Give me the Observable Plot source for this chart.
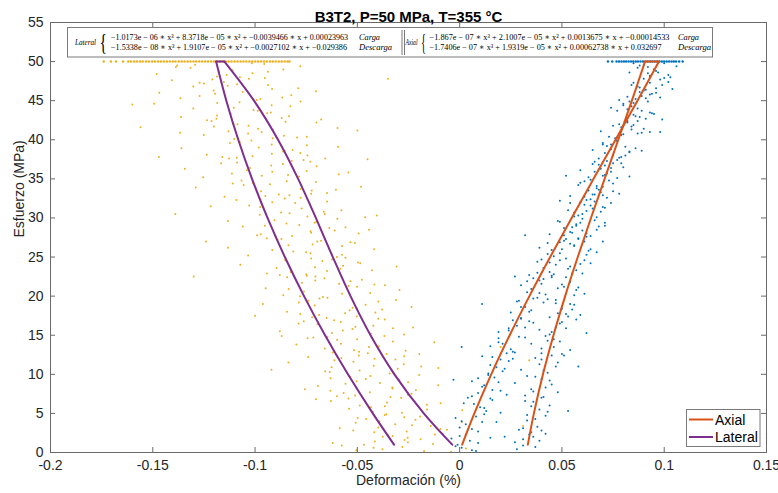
<!DOCTYPE html>
<html><head><meta charset="utf-8">
<script src="https://cdn.jsdelivr.net/npm/d3@7"></script>
<script src="https://cdn.jsdelivr.net/npm/@observablehq/plot@0.6"></script>
<style>
body{margin:0;background:#fff;}
#wrap{position:relative;width:778px;height:493px;font-family:"Liberation Sans",Arial,sans-serif;}
#overlay{position:absolute;left:0;top:0;pointer-events:none;}
</style></head><body>
<div id="wrap"><div id="chart"></div>
<svg id="overlay" width="778" height="493" xmlns="http://www.w3.org/2000/svg">
  <g font-family="'Liberation Serif','DejaVu Serif',serif" fill="#000">
    <rect x="67.5" y="27.5" width="645" height="29.5" fill="#fff" stroke="#7a7a7a" stroke-width="1"/>
    <text x="75" y="45" font-size="9" font-style="italic" textLength="21" lengthAdjust="spacingAndGlyphs">Lateral</text>
    <text x="99.5" y="50" font-size="24" textLength="7.5" lengthAdjust="spacingAndGlyphs">{</text>
    <text x="111" y="39.5" font-size="8.5" textLength="237" lengthAdjust="spacingAndGlyphs">−1.0173e − 06 ∗ x³ + 8.3718e − 05 ∗ x² + −0.0039466 ∗ x + 0.00023963</text>
    <text x="111" y="49.5" font-size="8.5" textLength="236" lengthAdjust="spacingAndGlyphs">−1.5338e − 08 ∗ x³ + 1.9107e − 05 ∗ x² + −0.0027102 ∗ x + −0.029386</text>
    <text x="359" y="39.5" font-size="8.5" font-style="italic" textLength="21" lengthAdjust="spacingAndGlyphs">Carga</text>
    <text x="359" y="49.5" font-size="8.5" font-style="italic" textLength="33" lengthAdjust="spacingAndGlyphs">Descarga</text>
    <line x1="402" x2="402" y1="30" y2="55" stroke="#555" stroke-width="0.8"/>
    <line x1="404.5" x2="404.5" y1="30" y2="55" stroke="#555" stroke-width="0.8"/>
    <text x="405.5" y="45" font-size="9" font-style="italic" textLength="12" lengthAdjust="spacingAndGlyphs">Axial</text>
    <text x="421" y="50" font-size="24" textLength="5" lengthAdjust="spacingAndGlyphs">{</text>
    <text x="429.5" y="39.5" font-size="8.5" textLength="240" lengthAdjust="spacingAndGlyphs">−1.867e − 07 ∗ x³ + 2.1007e − 05 ∗ x² + 0.0013675 ∗ x + −0.00014533</text>
    <text x="429.5" y="49.5" font-size="8.5" textLength="232" lengthAdjust="spacingAndGlyphs">−1.7406e − 07 ∗ x³ + 1.9319e − 05 ∗ x² + 0.00062738 ∗ x + 0.032697</text>
    <text x="678" y="39.5" font-size="8.5" font-style="italic" textLength="21" lengthAdjust="spacingAndGlyphs">Carga</text>
    <text x="678" y="49.5" font-size="8.5" font-style="italic" textLength="33" lengthAdjust="spacingAndGlyphs">Descarga</text>
  </g>
  <g font-family="'Liberation Sans',Arial,sans-serif" font-size="14" fill="#000">
    <rect x="686.5" y="409.5" width="73.5" height="37" fill="#fff" stroke="#7a7a7a" stroke-width="1"/>
    <line x1="689" x2="713" y1="419.5" y2="419.5" stroke="#D95319" stroke-width="2"/>
    <line x1="689" x2="713" y1="437" y2="437" stroke="#7E2F8E" stroke-width="2"/>
    <text x="715" y="424.5">Axial</text>
    <text x="715" y="442">Lateral</text>
  </g>
</svg></div>
<script>
const titleText = "B3T2, P=50 MPa, T=355 °C";
const xLabel = "Deformación (%)";
const yLabel = "Esfuerzo (MPa)";
const xTicks = [-0.2, -0.15, -0.1, -0.05, 0, 0.05, 0.1, 0.15];
const yTicks = [0, 5, 10, 15, 20, 25, 30, 35, 40, 45, 50, 55];

// fitted curves read at these stress levels (MPa)
const stressLevels = [1, 5, 10, 15, 20, 25, 30, 35, 40, 45, 50];
const lateralCarga = [-0.00362, -0.01753, -0.03187, -0.04356, -0.05334, -0.06200, -0.07028, -0.07895, -0.08878, -0.10053, -0.11496];
const lateralDescarga = [-0.03208, -0.04246, -0.05459, -0.06579, -0.07607, -0.08544, -0.09391, -0.10149, -0.10820, -0.11405, -0.11905];
const axialCarga = [0.00124, 0.00719, 0.01544, 0.02446, 0.03411, 0.04425, 0.05475, 0.06545, 0.07622, 0.08692, 0.09741];
const axialDescarga = [0.03334, 0.03630, 0.04073, 0.04587, 0.05158, 0.05774, 0.06421, 0.07086, 0.07756, 0.08419, 0.09061];

// hold phase at 50 MPa (deformation values)
const holdStress = 50;
const lateralHoldX = [-0.174,-0.1705,-0.168,-0.1645,-0.162,-0.1606,-0.1591,-0.1577,-0.1562,-0.1549,-0.1533,-0.1519,-0.1503,-0.1489,-0.1474,-0.146,-0.1446,-0.1431,-0.1417,-0.1402,-0.1389,-0.1373,-0.1359,-0.1345,-0.133,-0.1316,-0.1301,-0.1288,-0.1273,-0.1259,-0.1244,-0.123,-0.1215,-0.1201,-0.1187,-0.1172,-0.1158,-0.1143,-0.1129,-0.1115,-0.11,-0.1086,-0.1071,-0.1057,-0.1043,-0.1028,-0.1014,-0.0999,-0.0985,-0.0971,-0.0956,-0.0942,-0.0927,-0.0913,-0.0899,-0.0884,-0.087,-0.0855,-0.0841,-0.0832];
const axialHoldX = [0.0725,0.0746,0.0767,0.0779,0.0791,0.0803,0.0814,0.0826,0.0838,0.0849,0.0861,0.0872,0.0884,0.0896,0.0907,0.0919,0.0931,0.0942,0.0954,0.0965,0.0977,0.0989,0.1,0.1012,0.1024,0.1036,0.1047,0.1058,0.1073,0.109];

// scattered measurements [deformación, esfuerzo]
const lateralPts = [
[-0.0505,0.3],[-0.0415,1.4],[-0.035,2.2],[-0.028,0.7],[-0.0254,1.9],[-0.0174,0.2],[-0.013,1.1],[-0.0576,0.9],[-0.0083,2.4],[0.0031,0.5],[-0.0376,2.0],[-0.0269,1.6],
[-0.0216,4.2],[-0.052,2.8],[-0.0366,4.8],[-0.0141,3.4],[-0.0417,2.6],[-0.0271,4.5],[-0.0586,3.1],[0.001,3.9],[-0.0392,4.0],[-0.0062,2.9],[-0.0315,3.6],[-0.0499,4.4],
[-0.0541,5.6],[-0.0338,7.1],[-0.0093,6.3],[-0.0424,5.2],[-0.0702,6.8],[-0.0253,7.4],[-0.0366,5.9],[-0.016,6.1],[-0.0511,7.3],[0.0013,5.4],[-0.0629,6.6],[-0.0286,7.0],
[-0.0329,8.3],[-0.0535,9.7],[-0.0632,7.9],[-0.0252,9.0],[-0.0105,8.6],[-0.0459,9.4],[-0.0567,7.6],[-0.039,8.9],[-0.0198,9.9],[-0.0756,8.1],[-0.0296,9.2],[-0.0693,8.5],
[-0.0489,10.5],[-0.0273,11.3],[-0.074,12.2],[-0.0342,10.1],[-0.0612,11.8],[-0.0104,10.8],[-0.0493,12.4],[-0.0188,11.0],[-0.0635,10.3],[-0.0416,12.0],[-0.0837,11.5],[-0.0303,10.7],
[-0.0264,13.0],[-0.0599,14.4],[-0.0449,12.7],[-0.0798,13.8],[-0.0368,14.9],[-0.0659,13.3],[-0.0124,14.1],[-0.0492,12.9],[-0.0743,14.6],[-0.0395,13.6],[-0.0197,12.6],[-0.0646,14.8],
[-0.0879,15.5],[-0.0614,16.9],[-0.0422,16.2],[-0.0272,15.1],[-0.0721,17.3],[-0.0524,15.8],[-0.0787,16.5],[-0.0366,17.0],[-0.0625,15.3],[-0.0228,16.0],[-0.0503,17.4],[-0.0581,16.7],
[-0.0538,18.2],[-0.0779,17.7],[-0.0311,19.5],[-0.0708,18.8],[-0.0962,19.0],[-0.0412,17.9],[-0.0646,19.8],[-0.0501,18.4],[-0.0844,18.0],[-0.0397,19.3],[-0.0685,19.7],[-0.0235,18.6],
[-0.0761,20.6],[-0.0365,21.4],[-0.0661,22.3],[-0.0862,20.1],[-0.0534,21.9],[-0.0948,21.0],[-0.0437,20.4],[-0.0706,22.0],[-0.0589,21.6],[-0.0843,22.4],[-0.0294,20.8],[-0.0502,21.2],
[-0.0583,23.5],[-0.0942,22.9],[-0.0486,24.2],[-0.0726,24.8],[-0.0826,23.1],[-0.0308,23.8],[-0.0747,22.6],[-0.0671,24.5],[-0.1072,24.0],[-0.0429,23.3],[-0.0558,24.9],[-0.0895,23.6],
[-0.0813,25.7],[-0.0575,26.4],[-0.1034,25.2],[-0.0678,27.1],[-0.0418,26.0],[-0.0943,27.4],[-0.0729,25.5],[-0.0512,26.8],[-0.0871,27.3],[-0.1132,26.2],[-0.06,25.0],[-0.0719,26.6],
[-0.0494,28.0],[-0.0847,29.3],[-0.099,27.8],[-0.0637,28.7],[-0.1133,29.6],[-0.0729,28.3],[-0.0598,29.9],[-0.0897,27.6],[-0.0784,29.1],[-0.0443,28.5],[-0.106,28.9],[-0.0701,29.5],
[-0.0977,30.4],[-0.0772,31.2],[-0.0462,30.1],[-0.0916,32.0],[-0.1217,31.5],[-0.0664,30.8],[-0.1091,32.3],[-0.0578,31.0],[-0.0831,30.6],[-0.0732,31.8],[-0.0973,32.4],[-0.0405,30.3],
[-0.0726,33.1],[-0.1149,32.7],[-0.0927,34.3],[-0.0605,33.6],[-0.1066,34.8],[-0.0832,32.9],[-0.0482,34.0],[-0.0971,33.4],[-0.0703,34.6],[-0.129,33.9],[-0.0777,32.6],[-0.1109,34.4],
[-0.0916,35.9],[-0.0699,36.6],[-0.1254,35.2],[-0.0821,37.3],[-0.104,36.1],[-0.0591,35.6],[-0.1166,37.0],[-0.0864,36.9],[-0.0967,35.4],[-0.0763,37.4],[-0.1343,36.3],[-0.0544,35.8],
[-0.0779,38.3],[-0.116,37.8],[-0.0919,39.4],[-0.136,38.9],[-0.0657,37.6],[-0.1075,39.7],[-0.1236,38.1],[-0.0855,38.6],[-0.0594,39.1],[-0.1018,39.9],[-0.0744,38.0],[-0.1089,37.7],
[-0.1251,40.6],[-0.0913,41.3],[-0.1102,40.1],[-0.07,42.2],[-0.1032,41.8],[-0.1366,40.9],[-0.0795,40.3],[-0.1213,42.4],[-0.0968,41.0],[-0.0597,41.5],[-0.1086,42.0],[-0.0747,40.4],
[-0.0987,43.7],[-0.1362,42.9],[-0.0827,44.3],[-0.1186,43.1],[-0.1076,44.8],[-0.0677,42.6],[-0.1302,44.0],[-0.0923,43.5],[-0.1493,44.6],[-0.087,42.8],[-0.1119,43.3],[-0.0778,44.9],
[-0.1196,45.9],[-0.0917,46.5],[-0.1365,45.3],[-0.1088,47.1],[-0.0823,45.7],[-0.1302,46.8],[-0.0702,46.2],[-0.1153,47.4],[-0.1468,46.0],[-0.0974,45.2],[-0.1271,47.3],[-0.0789,46.6],
[-0.1186,48.1],[-0.0937,48.7],[-0.1387,49.3],[-0.103,47.8],[-0.1481,48.4],[-0.0862,49.0],[-0.1293,49.6],[-0.111,48.9],[-0.1407,47.6],[-0.1016,49.8],[-0.1139,48.3],[-0.0779,49.4],
[-0.156,41.6],[-0.147,37.8],[-0.13,22.5],[-0.124,27.0],[0.031,3.4],[0.034,11.8],[-0.062,1.2],[-0.139,30.5],[-0.045,37.5],[-0.05,41.2],[-0.16,44.5],[-0.087,14.9],[-0.092,10.6],[-0.1,17.5],[0.02,13.5],[-0.035,47.8],
[-0.0191,1.7],[-0.0377,0.4],[-0.0121,2.3],[-0.0468,1.0],[-0.0042,0.1],[-0.0328,2.1],[-0.0253,1.3],[-0.0421,0.6],
[-0.0398,3.2],[-0.0193,4.6],[-0.0259,2.7],[-0.0508,3.8],[-0.0358,4.9],[-0.0094,3.0],[-0.0457,4.3],[-0.0233,3.5],
[-0.0282,5.1],[-0.0544,6.9],[-0.0235,7.5],[-0.0434,5.8],[-0.0355,6.4],[-0.06,7.2],[-0.0159,5.5],[-0.0488,6.0],
[-0.0439,7.7],[-0.0297,9.3],[-0.0558,8.8],[-0.0436,9.8],[-0.0214,8.0],[-0.0631,9.5],[-0.0328,8.2],[-0.0504,9.1],
[-0.0324,10.2],[-0.0519,11.6],[-0.0271,12.3],[-0.0626,10.9],[-0.042,11.1],[-0.0578,12.1],[-0.0657,10.4],[-0.0314,11.9],
[-0.062,12.8],[-0.0443,13.5],[-0.0326,14.2],[-0.0516,13.1],[-0.0715,14.7],[-0.0357,12.6],[-0.058,13.9],[-0.0501,14.5],
[-0.0434,15.2],[-0.0695,16.4],[-0.0398,17.1],[-0.0571,15.6],[-0.0762,16.8],[-0.0326,15.9],[-0.065,17.2],[-0.051,16.1],
[-0.0687,17.6],[-0.0523,18.5],[-0.0786,19.2],[-0.046,18.9],[-0.056,17.8],[-0.0668,19.9],[-0.0379,18.3],[-0.0739,19.4],
[-0.0575,20.3],[-0.0771,21.7],[-0.0478,22.1],[-0.0836,20.9],[-0.0543,21.3],[-0.0705,22.5],[-0.078,20.0],[-0.0417,21.5],
[-0.075,22.8],[-0.057,23.9],[-0.0853,24.6],[-0.0648,23.2],[-0.0497,24.3],[-0.0879,22.7],[-0.0707,23.7],[-0.0625,24.7],
[-0.0575,25.3],[-0.0837,26.5],[-0.0696,27.0],[-0.0916,25.9],[-0.0534,26.9],[-0.0751,25.6],[-0.089,27.2],[-0.064,26.1],
[-0.0819,27.7],[-0.0611,28.4],[-0.0952,29.0],[-0.0726,28.1],[-0.0905,29.7],[-0.0558,28.8],[-0.0709,29.4],[-0.0972,27.9],
[-0.0744,30.2],[-0.0975,31.4],[-0.0648,32.1],[-0.0873,30.7],[-0.0804,31.9],[-0.0659,30.5],[-0.1029,31.6],[-0.0855,32.5],
[-0.095,32.8],[-0.0777,33.7],[-0.1056,34.2],[-0.0648,33.2],[-0.0845,34.7],[-0.0884,33.0],[-0.1011,34.5],[-0.0723,33.5],
[-0.0785,35.3],[-0.1025,36.4],[-0.073,37.2],[-0.1113,35.7],[-0.0921,36.7],[-0.0839,35.5],[-0.1088,37.1],[-0.0748,36.0],
[-0.1012,37.9],[-0.0817,38.7],[-0.1123,39.6],[-0.0918,38.2],[-0.0747,39.3],[-0.1127,37.6],[-0.0982,39.0],[-0.0863,38.5],
[-0.0914,40.2],[-0.113,41.1],[-0.0851,42.3],[-0.1034,40.8],[-0.1201,41.7],[-0.0859,40.5],[-0.1106,42.0],[-0.0985,41.4],
[-0.1189,42.7],[-0.0941,43.4],[-0.1104,44.1],[-0.0834,43.0],[-0.1185,44.7],[-0.1008,43.8],[-0.1235,42.5],[-0.0919,44.4],
[-0.0992,45.1],[-0.1203,46.3],[-0.0936,47.0],[-0.1271,45.6],[-0.1134,46.9],[-0.0867,45.4],[-0.125,47.2],[-0.106,46.1],
[-0.1209,47.7],[-0.1013,48.5],[-0.1316,49.2],[-0.1074,48.0],[-0.0955,49.7],[-0.1178,48.8],[-0.1381,49.5],[-0.0952,47.9]
];
const axialPts = [
[0.001,0.6],[-0.004,1.8],[0.006,0.3],[0.003,2.3],[0.009,1.2],[0.031,0.9],[0.036,2.0],[0.028,0.4],[0.039,1.5],[0.015,1.9],[0.042,2.4],[-0.001,1.0],
[0.003,3.6],[0.009,2.7],[-0.002,4.4],[0.012,4.9],[0.006,3.0],[0.033,4.1],[0.029,2.9],[0.038,3.3],[0.042,4.7],[0.018,3.9],[0.035,2.6],[0.001,4.0],
[0.007,6.2],[0.013,5.3],[0.004,7.0],[0.016,6.7],[0.01,5.8],[0.032,7.3],[0.039,5.5],[0.036,6.5],[0.044,6.0],[0.023,7.4],[0.041,7.1],[0.02,5.1],
[0.011,8.4],[0.017,9.6],[0.006,9.1],[0.02,7.9],[0.014,9.9],[0.035,8.1],[0.04,9.4],[0.045,8.7],[0.033,9.8],[0.027,8.9],[0.048,7.7],[0.009,7.6],
[0.015,11.2],[0.021,10.4],[0.011,12.3],[0.024,11.7],[0.018,10.9],[0.037,12.1],[0.043,10.2],[0.048,11.5],[0.04,11.9],[0.03,10.6],[0.051,12.4],[0.026,12.0],
[0.019,14.1],[0.026,12.9],[0.015,13.6],[0.029,14.8],[0.023,12.7],[0.04,13.3],[0.046,14.5],[0.05,12.6],[0.035,13.9],[0.043,14.3],[0.054,13.1],[0.032,14.7],
[0.024,15.9],[0.03,17.2],[0.019,15.4],[0.034,16.8],[0.028,16.2],[0.044,15.1],[0.049,16.5],[0.053,17.4],[0.039,15.7],[0.047,16.0],[0.057,17.0],[0.036,16.6],
[0.029,19.4],[0.035,18.2],[0.025,17.9],[0.038,19.8],[0.032,18.6],[0.047,19.1],[0.052,17.7],[0.056,18.9],[0.043,19.6],[0.05,18.4],[0.059,17.6],[0.041,19.2],
[0.033,20.5],[0.039,22.0],[0.03,21.4],[0.042,20.2],[0.036,22.3],[0.048,21.0],[0.054,21.8],[0.057,20.8],[0.045,22.4],[0.051,21.2],[0.061,20.3],[0.04,21.6],
[0.038,24.4],[0.044,23.1],[0.034,22.7],[0.047,24.0],[0.041,23.6],[0.052,24.8],[0.057,23.3],[0.06,22.9],[0.049,24.6],[0.054,23.8],[0.064,24.2],[0.045,22.6],
[0.043,25.4],[0.049,26.9],[0.039,26.2],[0.052,27.3],[0.046,25.1],[0.056,26.5],[0.061,27.0],[0.063,25.8],[0.054,26.7],[0.058,27.4],[0.067,25.6],[0.05,26.0],
[0.048,29.6],[0.054,28.2],[0.044,27.9],[0.057,29.2],[0.051,28.7],[0.06,29.9],[0.064,27.7],[0.067,28.5],[0.059,29.4],[0.062,28.0],[0.071,29.0],[0.055,28.8],
[0.053,31.0],[0.058,30.3],[0.049,32.2],[0.061,31.7],[0.056,30.7],[0.064,32.4],[0.067,30.1],[0.07,31.4],[0.062,30.9],[0.059,32.0],[0.074,31.9],[0.065,31.2],
[0.058,34.2],[0.063,33.5],[0.054,32.8],[0.066,33.0],[0.061,34.7],[0.069,33.3],[0.072,32.6],[0.075,34.4],[0.067,33.8],[0.064,34.9],[0.078,33.1],[0.07,34.0],
[0.063,35.2],[0.068,36.8],[0.059,36.1],[0.071,35.5],[0.066,37.2],[0.074,35.9],[0.077,37.4],[0.08,36.5],[0.072,35.7],[0.069,36.3],[0.083,35.3],[0.075,37.0],
[0.07,39.6],[0.075,38.1],[0.065,38.7],[0.079,37.8],[0.072,39.2],[0.083,38.4],[0.077,39.9],[0.068,37.6],[0.086,38.9],[0.074,39.4],[0.081,38.0],[0.089,38.6],
[0.073,40.4],[0.078,42.0],[0.069,41.1],[0.081,42.3],[0.076,40.2],[0.084,41.7],[0.087,40.8],[0.09,41.4],[0.082,42.4],[0.079,40.6],[0.093,41.0],[0.085,41.9],
[0.08,44.4],[0.086,43.0],[0.077,43.7],[0.091,42.7],[0.083,44.9],[0.095,43.3],[0.088,42.9],[0.074,44.1],[0.093,43.5],[0.085,44.7],[0.099,42.6],[0.082,43.9],
[0.082,45.5],[0.087,46.8],[0.078,45.1],[0.09,46.3],[0.085,47.3],[0.093,45.8],[0.096,46.6],[0.099,47.0],[0.091,45.3],[0.088,46.1],[0.102,47.4],[0.094,45.9],
[0.087,49.2],[0.093,48.0],[0.083,48.6],[0.098,47.7],[0.09,49.6],[0.102,48.3],[0.095,49.0],[0.085,49.8],[0.1,47.9],[0.092,48.5],[0.106,49.4],[0.096,48.8],
[0.032,27.8],[0.027,22.5],[-0.003,9.3],[0.011,19.0],[0.062,15.3],[0.07,27.0],[0.098,41.0],[0.104,46.5],[0.001,13.5],[0.058,11.0],[0.053,5.3],[0.022,2.0],[0.052,35.4],[0.071,29.4],
[0.005,1.5],[-0.002,0.8],[0.0,2.1],[0.008,0.2],[0.031,1.7],[0.037,0.7],[0.034,2.3],[0.027,1.3],
[0.0,3.2],[0.008,4.6],[0.004,2.9],[0.011,3.9],[0.037,4.3],[0.031,3.1],[0.04,2.8],[0.033,4.8],
[0.006,7.2],[0.012,5.7],[0.002,6.3],[0.015,6.9],[0.035,5.9],[0.04,7.0],[0.032,6.6],[0.043,5.2],
[0.016,8.0],[0.009,9.5],[0.019,9.0],[0.012,8.6],[0.037,9.7],[0.042,8.3],[0.036,7.8],[0.044,9.2],
[0.014,10.1],[0.02,11.9],[0.022,10.7],[0.016,12.2],[0.039,11.3],[0.045,12.4],[0.041,10.5],[0.047,11.0],
[0.025,13.2],[0.019,14.6],[0.027,12.8],[0.021,13.9],[0.042,14.9],[0.046,13.5],[0.04,12.7],[0.049,14.2],
[0.024,15.6],[0.03,17.1],[0.032,16.0],[0.026,16.9],[0.045,15.4],[0.05,16.7],[0.044,17.3],[0.052,15.9],
[0.034,18.0],[0.028,19.3],[0.036,19.7],[0.03,18.6],[0.048,17.8],[0.054,19.0],[0.047,19.5],[0.055,18.3],
[0.039,20.4],[0.033,21.9],[0.041,22.2],[0.035,20.9],[0.05,21.5],[0.056,20.1],[0.052,22.4],[0.058,21.1],
[0.044,24.3],[0.038,23.0],[0.046,22.8],[0.04,24.7],[0.053,23.5],[0.059,24.1],[0.055,22.9],[0.061,24.6],
[0.049,25.5],[0.043,26.8],[0.051,27.1],[0.045,25.9],[0.056,26.4],[0.062,25.3],[0.058,27.3],[0.064,26.0],
[0.055,28.1],[0.049,29.5],[0.057,29.0],[0.051,27.8],[0.06,28.4],[0.066,29.7],[0.062,27.6],[0.068,28.9],
[0.06,30.5],[0.054,31.9],[0.062,32.3],[0.056,30.2],[0.064,31.6],[0.069,30.8],[0.066,32.1],[0.071,31.3],
[0.065,33.0],[0.059,34.5],[0.067,34.1],[0.061,32.7],[0.068,33.6],[0.073,34.8],[0.07,32.9],[0.075,33.4],
[0.07,35.4],[0.065,36.9],[0.072,37.3],[0.066,35.9],[0.074,36.4],[0.077,35.1],[0.071,36.7],[0.079,37.0],
[0.075,38.0],[0.07,39.4],[0.077,39.8],[0.071,38.3],[0.078,37.7],[0.081,39.1],[0.074,38.8],[0.083,38.5],
[0.08,40.7],[0.075,41.8],[0.082,42.2],[0.077,40.3],[0.084,41.3],[0.087,42.4],[0.079,41.6],[0.089,40.9],
[0.085,43.2],[0.08,44.6],[0.087,44.0],[0.082,42.8],[0.089,43.7],[0.092,44.9],[0.084,44.3],[0.094,43.4],
[0.089,45.6],[0.084,47.0],[0.091,46.4],[0.086,45.2],[0.093,47.3],[0.096,46.0],[0.088,46.7],[0.098,45.4],
[0.093,48.2],[0.088,49.5],[0.095,49.0],[0.09,47.8],[0.097,48.6],[0.1,49.8],[0.092,49.3],[0.103,48.0]
];

function loopRows(carga, descarga) {
  const n = stressLevels.length - 1;
  return stressLevels.map((s, i) => ({x: carga[i], y: s, part: "carga"}))
    .concat(stressLevels.map((s, i) => ({x: descarga[i], y: s, part: "descarga"})))
    .concat([{x: carga[n], y: stressLevels[n], part: "top"}, {x: descarga[n], y: stressLevels[n], part: "top"}]);
}
const lateralLoop = loopRows(lateralCarga, lateralDescarga);
const axialLoop = loopRows(axialCarga, axialDescarga);

const ink = "#262626";
const chart = Plot.plot({
  width: 778, height: 493,
  marginLeft: 50, marginRight: 12, marginTop: 22, marginBottom: 41,
  style: {fontFamily: "'Liberation Sans', Arial, sans-serif", fontSize: "14px", color: ink, background: "white"},
  x: {domain: [-0.2, 0.15]},
  y: {domain: [0, 55]},
  marks: [
    Plot.dot(lateralHoldX, {x: d => d, y: () => holdStress, r: 1.25, fill: "#EDB120", stroke: null}),
    Plot.dot(lateralPts, {x: d => d[0], y: d => d[1], r: 1, fill: "#EDB120", stroke: null}),
    Plot.dot(axialPts, {x: d => d[0], y: d => d[1], r: 1, fill: "#0072BD", stroke: null}),
    Plot.dot(axialHoldX, {x: d => d, y: () => holdStress, r: 1.25, fill: "#0072BD", stroke: null}),
    Plot.line(axialLoop, {x: "x", y: "y", z: "part", stroke: "#D95319", strokeWidth: 2, curve: "catmull-rom", strokeLinecap: "round", strokeLinejoin: "round"}),
    Plot.line(lateralLoop, {x: "x", y: "y", z: "part", stroke: "#7E2F8E", strokeWidth: 2, curve: "catmull-rom", strokeLinecap: "round", strokeLinejoin: "round"}),
    Plot.frame({stroke: "#6a6a6a", strokeWidth: 1}),
    Plot.tickX(xTicks, {x: d => d, insetTop: 425, stroke: "#6a6a6a"}),
    Plot.tickX(xTicks, {x: d => d, insetBottom: 425, stroke: "#6a6a6a"}),
    Plot.tickY(yTicks, {y: d => d, insetRight: 711, stroke: "#6a6a6a"}),
    Plot.tickY(yTicks, {y: d => d, insetLeft: 711, stroke: "#6a6a6a"}),
    Plot.axisX({ticks: xTicks, tickSize: 0, tickPadding: 8, tickFormat: d => String(d), label: null, fontSize: 14}),
    Plot.axisY({ticks: yTicks, tickSize: 0, tickPadding: 7, tickFormat: d => String(d), label: null, fontSize: 14}),
    Plot.text([titleText], {text: d => d, frameAnchor: "top", dy: -11, fontWeight: "bold", fontSize: 15, fill: "#000"}),
    Plot.text([xLabel], {text: d => d, frameAnchor: "bottom", dy: 32, fontSize: 14, fill: ink}),
    Plot.text([yLabel], {text: d => d, frameAnchor: "left", dx: -31, rotate: -90, fontSize: 14, fill: ink})
  ]
});
document.getElementById("chart").appendChild(chart);
</script>
</body></html>
